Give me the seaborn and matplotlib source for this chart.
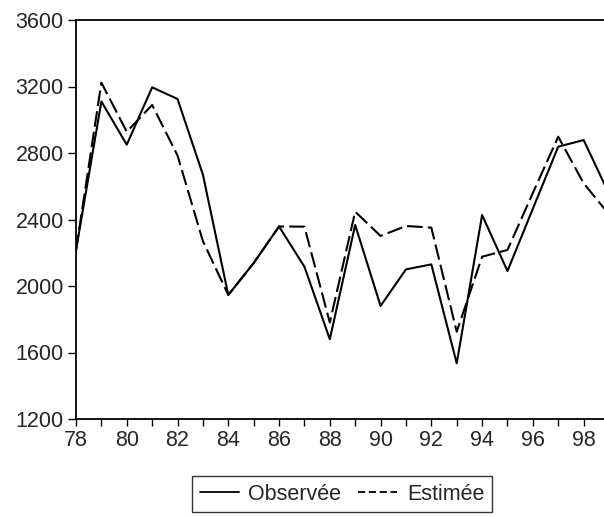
import numpy as np
import pandas as pd
import matplotlib
matplotlib.use("Agg")
import matplotlib.pyplot as plt
import seaborn as sns
from matplotlib.lines import Line2D

years = list(range(1978, 2000))
observee = [2215, 3110, 2850, 3195, 3125, 2670, 1946, 2138, 2358, 2116, 1680,
            2367, 1880, 2100, 2130, 1535, 2427, 2090, 2465, 2838, 2878, 2555]
estimee = [2215, 3223, 2928, 3089, 2785, 2270, 1946, 2138, 2358, 2357, 1780,
           2447, 2301, 2361, 2351, 1725, 2176, 2217, 2560, 2898, 2618, 2431]
series_names = ["Observée", "Estimée"]
y_ticks = [1200, 1600, 2000, 2400, 2800, 3200, 3600]
x_tick_labels = ["78", "80", "82", "84", "86", "88", "90", "92", "94", "96", "98"]

df = pd.DataFrame({
    "year": years * 2,
    "value": observee + estimee,
    "serie": [series_names[0]] * len(years) + [series_names[1]] * len(years),
})

sns.set_style("ticks")
plt.rcParams["font.family"] = ["Liberation Sans", "DejaVu Sans"]

fs = 15.5
fig = plt.figure(figsize=(6.04, 5.17), dpi=100)
ax = fig.add_axes([76 / 604, (517 - 419) / 517, (609 - 76) / 604, 399 / 517])

sns.lineplot(data=df, x="year", y="value", style="serie",
             style_order=series_names,
             dashes={"Observée": "", "Estimée": (7.5, 2.5)},
             color="black", linewidth=1.5, ax=ax, legend=False)

ax.set_xlim(1978, 1999)
ax.set_ylim(1200, 3600)
ax.set_yticks(y_ticks)
ax.set_yticklabels([str(v) for v in y_ticks], fontsize=fs)
ax.set_xticks(years)
ax.set_xticklabels([x_tick_labels[i // 2] if i % 2 == 0 else "" for i in range(len(years))],
                   fontsize=fs)
ax.tick_params(axis="y", direction="out", length=5.8, width=1, color="black", pad=3)
ax.tick_params(axis="x", direction="out", length=5.2, width=1, color="black", pad=3)
ax.set_xlabel("")
ax.set_ylabel("")
for s in ax.spines.values():
    s.set_color("black")
    s.set_linewidth(1.3)

handles = [Line2D([], [], color="black", lw=1.3),
           Line2D([], [], color="black", lw=1.3, dashes=(4, 2))]
leg = fig.legend(handles, series_names, loc="center", bbox_to_anchor=(342 / 604, 1 - 494 / 517),
                 ncol=2, frameon=True, fontsize=fs, handlelength=1.8, handletextpad=0.45,
                 columnspacing=0.8, fancybox=False, borderpad=0.35, borderaxespad=0)
leg.get_frame().set_edgecolor("black")
leg.get_frame().set_linewidth(1.0)

fig.savefig("out.png", dpi=100, facecolor="white")
